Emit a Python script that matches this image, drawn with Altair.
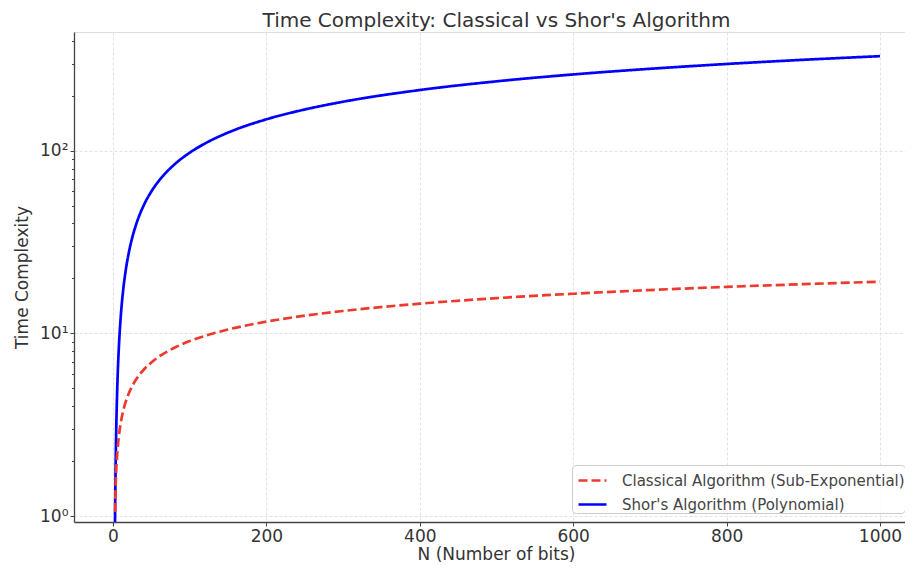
import altair as alt
import pandas as pd

# N values (bits) sampled along the curves
n_bits = [2, 2.5, 2.75, 3, 4, 5, 6, 8, 10, 13, 16, 20, 25, 30, 40, 50, 60, 70, 80,
          100, 120, 150, 200, 250, 300, 400, 500, 600, 700, 800, 900, 1000]

# Shor's algorithm (polynomial) values
shor = [0.333, 0.769, 1.035, 1.326, 2.664, 4.167, 5.753, 8.99, 12.21, 16.88, 21.32,
        26.89, 33.35, 39.35, 50.20, 59.87, 68.63, 76.67, 84.14, 97.66, 109.7, 125.8,
        148.7, 168.3, 185.6, 215.1, 240.0, 261.8, 281.1, 298.7, 314.8, 329.6]

# Classical algorithm (sub-exponential) values
classical = [None, None, 1.053, 1.238, 1.697, 2.043, 2.334, 2.820, 3.222, 3.728, 4.151,
             4.635, 5.147, 5.592, 6.330, 6.945, 7.473, 7.937, 8.354, 9.084, 9.706,
             10.51, 11.61, 12.51, 13.28, 14.56, 15.61, 16.50, 17.29, 17.99, 18.62, 19.21]

series_names = ["Classical Algorithm (Sub-Exponential)", "Shor's Algorithm (Polynomial)"]
x_ticks = [0, 200, 400, 600, 800, 1000]
y_ticks = [1, 2, 3, 4, 5, 6, 7, 8, 9, 10, 20, 30, 40, 50, 60, 70, 80, 90, 100, 200, 300, 400]

rows = []
for i, n in enumerate(n_bits):
    if classical[i] is not None:
        rows.append({"N": n, "value": classical[i], "series": series_names[0], "order": i})
    rows.append({"N": n, "value": shor[i], "series": series_names[1], "order": i})
df = pd.DataFrame(rows)

FONT = "DejaVu Sans"
TXT = "#333333"

major_test = "abs(log(datum.value)/LN10 - round(log(datum.value)/LN10)) < 1e-6"

legend_kw = dict(title=None, orient="none", legendX=498, legendY=433,
                 symbolType="stroke", symbolSize=784, symbolStrokeWidth=2.6,
                 symbolOffset=5,
                 labelFontSize=15, labelColor="#444444", labelFont=FONT, labelOffset=14,
                 fillColor="rgba(255,255,255,0.85)", strokeColor="#cccccc",
                 cornerRadius=4, padding=0, rowPadding=-5, labelLimit=400)

chart = alt.Chart(df).mark_line(clip=True, strokeWidth=2.7, interpolate="monotone").encode(
    x=alt.X("N:Q",
            scale=alt.Scale(domain=[-50.85, 1032.6], nice=False, zero=False),
            axis=alt.Axis(values=x_ticks, title="N (Number of bits)", format="d",
                          grid=True, gridColor="#dadada", gridDash=[3, 2], gridWidth=0.8,
                          domainColor="#444444", domainWidth=1.3,
                          tickColor="#444444", tickSize=4,
                          labelFontSize=17, labelColor=TXT, labelFont=FONT, labelPadding=2,
                          titleFontSize=17, titleColor=TXT, titleFont=FONT,
                          titleFontWeight="normal", titlePadding=2, titleX=422)),
    y=alt.Y("value:Q",
            scale=alt.Scale(type="log", domain=[0.929, 447], nice=False),
            axis=alt.Axis(values=y_ticks, title="Time Complexity",
                          labelExpr="datum.value == 1 ? '10\u2070' : datum.value == 10 ? '10\u00b9' : datum.value == 100 ? '10\u00b2' : ''",
                          grid=True, gridColor="#dadada", gridDash=[3, 2], gridWidth=0.8,
                          gridOpacity={"condition": {"test": major_test, "value": 1}, "value": 0},
                          tickSize={"condition": {"test": major_test, "value": 4}, "value": 2.5},
                          domainColor="#444444", domainWidth=1.3,
                          tickColor="#444444",
                          labelFontSize=17, labelColor=TXT, labelFont=FONT, labelPadding=2,
                          titleFontSize=17, titleColor=TXT, titleFont=FONT,
                          titleFontWeight="normal", titlePadding=8)),
    color=alt.Color("series:N",
                    scale=alt.Scale(domain=series_names, range=["#ee3a2e", "#0000ff"]),
                    legend=alt.Legend(**legend_kw)),
    strokeDash=alt.StrokeDash("series:N",
                              scale=alt.Scale(domain=series_names, range=[[9, 4], [1, 0]]),
                              legend=alt.Legend(**legend_kw)),
    order="order:Q",
).properties(
    width=831,
    height=490,
    autosize=alt.AutoSizeParams(type="none"),
    padding={"left": 66, "top": 24, "right": 0, "bottom": 45},
    title=alt.Title("Time Complexity: Classical vs Shor's Algorithm",
                    fontSize=20, color=TXT, font=FONT, fontWeight="normal", offset=1, dx=7),
).configure_view(stroke=None).configure(background="white")

chart.save("out.html", embed_options={"renderer": "svg", "actions": False})
